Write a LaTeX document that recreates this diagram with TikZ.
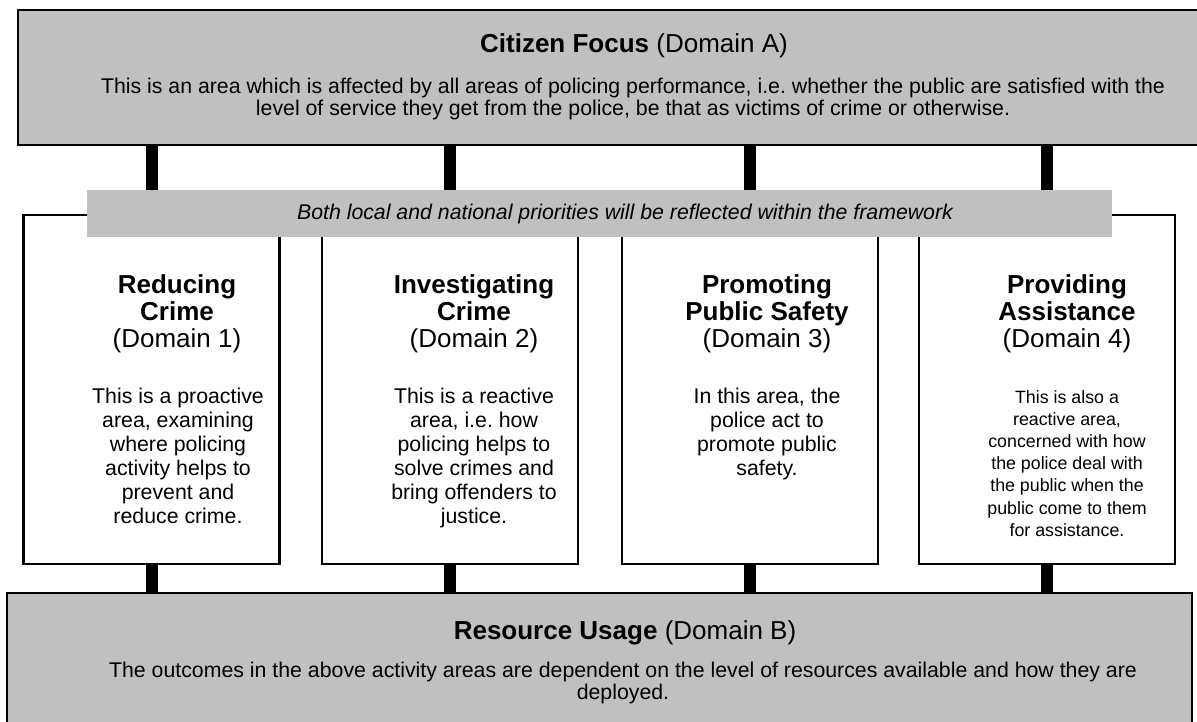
\documentclass[tikz,border=0pt]{standalone}
\usepackage{fontspec}
\setmainfont{Liberation Sans}
\definecolor{domgrey}{HTML}{C0C0C0}
\frenchspacing

\begin{document}
\begin{tikzpicture}[
  every node/.style={inner sep=0pt},
  greybox/.style={rectangle, fill=domgrey, draw=black, line width=2pt},
  areabox/.style={rectangle, fill=white, draw=black, line width=2.4pt,
    minimum width=256pt, minimum height=349pt},
  bar/.style={draw=black, line width=12pt},
  headtext/.style={align=center, anchor=north, font=\fontsize{26}{27}\selectfont},
  bodytext/.style={align=center, anchor=north, font=\fontsize{21.3}{24}\selectfont},
  x=1pt, y=-1pt
]
\clip (0,0) rectangle (1197,722);
\fill[white] (0,0) rectangle (1197,722);

% Domain A across the top, Domain B across the bottom
\node[greybox, minimum width=1196pt, minimum height=135pt] (citizen) at (616,77.5) {};
\node[greybox, minimum width=1185pt, minimum height=150pt] (resource) at (599.5,668) {};

% the four activity areas (Domains 1-4)
\node[areabox] (d1) at (151.5,389.5) {};
\node[areabox] (d2) at (450,389.5) {};
\node[areabox] (d3) at (750,389.5) {};
\node[areabox] (d4) at (1047,389.5) {};

% grey band laid over the tops of the area boxes
\node[fill=domgrey, minimum width=1025pt, minimum height=47pt] (band) at (599.5,213.5) {};

% links
\foreach \d in {d1,d2,d3,d4} {
  \draw[bar] (citizen.south -| \d.north) -- (band.north -| \d.north);
  \draw[bar] (\d.south) -- (resource.north -| \d.south);
}

% texts
\node[anchor=base, font=\fontsize{26}{27}\selectfont] (citizentitle) at (634,53)
  {\textbf{Citizen Focus} (Domain A)};
\node[bodytext, font=\fontsize{21.3}{22}\selectfont] (citizentext) at (633,78)
  {This is an area which is affected by all areas of policing performance, i.e. whether the public are satisfied with the\\
   level of service they get from the police, be that as victims of crime or otherwise.};
\node[anchor=base, font=\fontsize{21.3}{22}\selectfont\itshape] (bandtext) at (625,220)
  {Both local and national priorities will be reflected within the framework};

\node[headtext] (h1) at (177,274) {\textbf{Reducing}\\\textbf{Crime}\\(Domain 1)};
\node[headtext] (h2) at (474,274) {\textbf{Investigating}\\\textbf{Crime}\\(Domain 2)};
\node[headtext] (h3) at (767,274) {\textbf{Promoting}\\\textbf{Public Safety}\\(Domain 3)};
\node[headtext] (h4) at (1067,274) {\textbf{Providing}\\\textbf{Assistance}\\(Domain 4)};

\node[bodytext] (b1) at (178,388) {This is a proactive\\area, examining\\where policing\\activity helps to\\prevent and\\reduce crime.};
\node[bodytext] (b2) at (474,388) {This is a reactive\\area, i.e. how\\policing helps to\\solve crimes and\\bring offenders to\\justice.};
\node[bodytext] (b3) at (767,388) {In this area, the\\police act to\\promote public\\safety.};
\node[bodytext, font=\fontsize{17.8}{22.2}\selectfont] (b4) at (1067,390)
  {This is also a\\reactive area,\\concerned with how\\the police deal with\\the public when the\\public come to them\\for assistance.};

\node[anchor=base, font=\fontsize{26}{27}\selectfont] (resourcetitle) at (625,639)
  {\textbf{Resource Usage} (Domain B)};
\node[bodytext, font=\fontsize{21.3}{22}\selectfont] (resourcetext) at (623,662)
  {The outcomes in the above activity areas are dependent on the level of resources available and how they are\\
   deployed.};

\end{tikzpicture}
\end{document}
